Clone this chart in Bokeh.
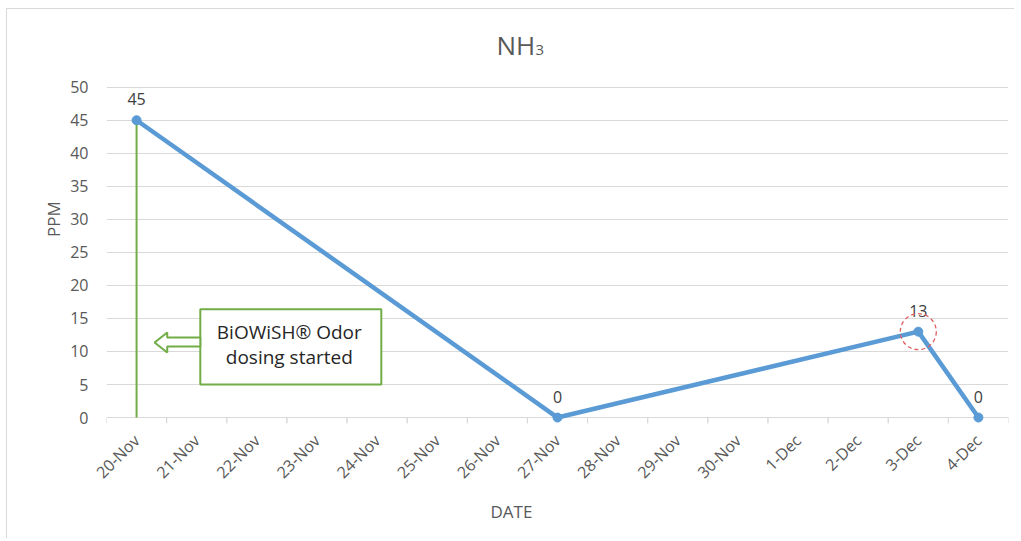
import numpy as np
from bokeh.plotting import figure
from bokeh.models import (ColumnDataSource, FactorRange, Range1d, Label, BoxAnnotation,
                          PolyAnnotation, FixedTicker, Title)
from bokeh.transform import dodge
from bokeh.core.properties import value
from bokeh.embed import file_html
from bokeh.resources import INLINE

# ---- data ----
all_dates = ["20-Nov", "21-Nov", "22-Nov", "23-Nov", "24-Nov", "25-Nov", "26-Nov",
             "27-Nov", "28-Nov", "29-Nov", "30-Nov", "1-Dec", "2-Dec", "3-Dec", "4-Dec"]
meas_dates = ["20-Nov", "27-Nov", "3-Dec", "4-Dec"]
meas_ppm = [45, 0, 13, 0]
y_ticks = [0, 5, 10, 15, 20, 25, 30, 35, 40, 45, 50]
dosing_start = "20-Nov"
highlight_date = "3-Dec"
highlight_ppm = 13

FONT = "Open Sans"
GRAY = "#595959"
BLUE = "#5B9BD5"
GREEN = "#70AD47"

W, H = 1008, 530
# frame extends above 50 so the chart title can sit inside it
p = figure(width=W, height=H, output_backend="svg", toolbar_location=None,
           x_range=FactorRange(factors=all_dates, range_padding=0),
           y_range=Range1d(-0.9, 61.0),
           min_border_left=99, min_border_right=7, min_border_top=5, min_border_bottom=116)
p.styles = {"margin-left": "6px", "margin-top": "8px",
            "border-left": "1px solid #d9d9d9", "border-top": "1px solid #d9d9d9"}
p.outline_line_color = None
p.background_fill_color = "white"
p.border_fill_color = "white"

# axes
p.xaxis.axis_line_color = None
p.xaxis.major_tick_line_color = None
p.xaxis.minor_tick_line_color = None
p.xaxis.major_label_orientation = np.pi / 4
p.xaxis.major_label_text_font = FONT
p.xaxis.major_label_text_font_size = "16px"
p.xaxis.major_label_text_color = GRAY
p.xaxis.major_label_standoff = 8

p.yaxis.ticker = FixedTicker(ticks=y_ticks)
p.yaxis.axis_line_color = None
p.yaxis.major_tick_line_color = None
p.yaxis.minor_tick_line_color = None
p.yaxis.major_tick_out = 0
p.yaxis.major_label_standoff = 18
p.yaxis.major_label_text_font = FONT
p.yaxis.major_label_text_font_size = "16px"
p.yaxis.major_label_text_color = GRAY
p.yaxis.axis_label = "PPM"
p.yaxis.axis_label_text_font = FONT
p.yaxis.axis_label_text_font_size = "17px"
p.yaxis.axis_label_text_font_style = "normal"
p.yaxis.axis_label_text_color = GRAY
p.yaxis.axis_label_standoff = 2

# x-axis title (offset so it is centred on the chart, not the frame)
p.add_layout(Title(text="DATE", align="left", offset=384, standoff=8, text_font=FONT,
                   text_font_size="17px", text_font_style="normal", text_color=GRAY), "below")

p.xgrid.grid_line_color = None
p.ygrid.ticker = FixedTicker(ticks=y_ticks)
p.ygrid.grid_line_color = "#d9d9d9"
p.ygrid.grid_line_width = 1

# chart title NH3 (subscript 3)
p.add_layout(Label(x=390, y=56.4, x_units="screen", text="NH", text_align="left",
                   text_baseline="alphabetic", text_font=FONT, text_font_size="26px",
                   text_color=GRAY))
p.add_layout(Label(x=429, y=55.6, x_units="screen", text="3", text_align="left",
                   text_baseline="alphabetic", text_font=FONT, text_font_size="15px",
                   text_color=GRAY))

# boundary tick marks on category axis
tick_src = ColumnDataSource(dict(date=all_dates))
for off in (-0.5, 0.5):
    p.segment(x0=dodge("date", off, range=p.x_range), x1=dodge("date", off, range=p.x_range),
              y0=0, y1=-0.9, source=tick_src, line_color="#d9d9d9", line_width=1)

# dosing-start vertical line
p.segment(x0=[dosing_start], x1=[dosing_start], y0=[0], y1=[meas_ppm[meas_dates.index(dosing_start)]],
          line_color=GREEN, line_width=2)

# series
src = ColumnDataSource(dict(date=meas_dates, ppm=meas_ppm, lab=[str(v) for v in meas_ppm]))
p.line("date", "ppm", source=src, line_color=BLUE, line_width=4.5, line_join="round")
p.scatter("date", "ppm", source=src, size=9, fill_color=BLUE, line_color=BLUE)
p.text("date", "ppm", text="lab", source=src, text_align="center", text_baseline="alphabetic",
       y_offset=-21, text_font=value(FONT), text_font_size="16px", text_color="#404040")

# highlight circle
p.scatter(x=[highlight_date], y=[highlight_ppm], size=36, fill_color=None, line_color="#E06060",
          line_width=1.3, line_dash="4 3")

# annotation box + hollow arrow (synthetic category coordinates)
box = BoxAnnotation(left=1.56, right=4.57, bottom=5.0, top=16.4, fill_color="white", fill_alpha=1,
                    line_color=GREEN, line_alpha=1, line_width=2, level="overlay")
p.add_layout(box)
arrow = PolyAnnotation(xs=[0.80, 1.01, 1.01, 1.56, 1.56, 1.01, 1.01],
                       ys=[11.36, 12.88, 12.12, 12.12, 10.76, 10.76, 9.85],
                       fill_color="white", fill_alpha=1, line_color=GREEN, line_alpha=1,
                       line_width=2, level="overlay")
p.add_layout(arrow)
for txt, yy in (("BiOWiSH® Odor", 13.0), ("dosing started", 9.1)):
    p.add_layout(Label(x=3.04, y=yy, text=txt, text_align="center", text_baseline="middle",
                       text_font=FONT, text_font_size="19px", text_color="#262626", level="overlay"))

open("out.html", "w").write(file_html(p, INLINE))
